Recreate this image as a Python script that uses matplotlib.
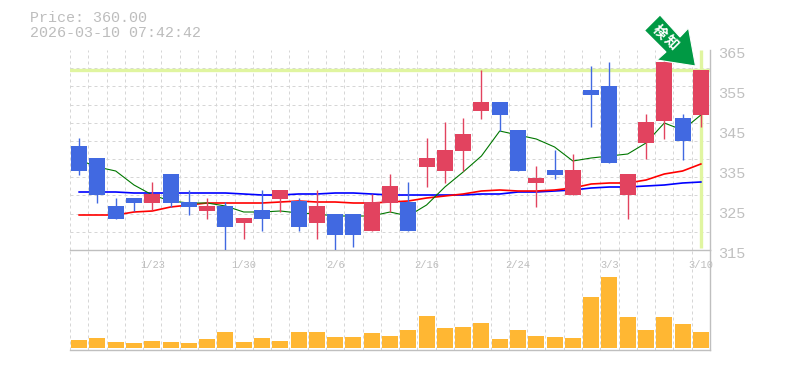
import numpy as np
import matplotlib
matplotlib.use("Agg")
import matplotlib.pyplot as plt
from matplotlib.patches import Polygon
from matplotlib.transforms import ScaledTranslation

price_text = "Price: 360.00"
time_text = "2026-03-10 07:42:42"
last_price = 360

highs = [343, 338, 328, 328, 332, 334, 330, 328, 327, 323, 330, 330, 328, 330, 324, 324, 329, 334, 332, 343,
         347, 348, 360, 352, 345, 336, 340, 339, 361, 362, 334, 349, 364, 349, 360]
lows = [333.75, 326.75, 322.75, 324.75, 325, 325.75, 323.75, 322.75, 315, 317.75, 319.75, 324.5, 319.75, 317.75,
        315, 315.75, 319.75, 324.5, 319.75, 330.75, 331.75, 334.75, 347.75, 344.75, 334.75, 325.75, 332.75,
        328.75, 345.75, 336.75, 322.75, 337.75, 342.75, 337.5, 345.75]
opens = [341, 338, 326, 328, 326.75, 334, 327, 324.75, 326, 321.75, 325, 327.75, 327.25, 321.75, 324, 324, 319.75,
         326.75, 327, 335.75, 334.75, 339.75, 349.75, 352, 345, 331.75, 335, 328.75, 355, 356, 328.75, 341.75,
         347.25, 348, 348.75]
closes = [334.75, 328.75, 322.75, 326.75, 329, 326.75, 325.75, 326, 320.75, 323, 322.75, 330, 320.75, 326, 318.75,
          318.75, 327, 331, 319.75, 338, 340, 344, 352, 348.75, 334.75, 333, 333.75, 335, 353.75, 336.75,
          334, 347, 362, 342.25, 360]
volumes = [8, 10, 6, 5, 7, 6, 5, 9, 16, 6, 10, 7, 16, 16, 11, 11, 15, 12, 18, 32, 20, 21, 25, 9, 18, 12, 11, 10,
           51, 71, 31, 18, 31, 24, 16]

ma_green = [337.5, 335.75, 334.75, 331.25, 328.75, 327.25, 326.75, 326.75, 326, 324.5, 324.5, 324.75, 324.25, 324,
            323.5, 323.5, 323.5, 324.5, 323.5, 326.25, 330.75, 334.5, 338.5, 344.75, 343.75, 342.75, 340.75,
            337.25, 338, 338.5, 339, 341.75, 346.75, 345, 348.75]
ma_red = [323.75, 323.75, 323.75, 324.5, 324.75, 325.75, 326.25, 326.75, 326.75, 326.75, 326.75, 327, 327.25, 327,
          327, 326.75, 326.75, 327, 327.25, 328, 328.5, 329, 329.75, 330, 329.75, 329.75, 330, 330.5, 331.5,
          331.75, 331.75, 332.5, 334, 334.75, 336.5]
ma_blue = [329.5, 329.5, 329.5, 329.25, 329.25, 329.25, 329.25, 329.25, 329.25, 329, 328.75, 328.75, 329, 329,
           329.25, 329.25, 329, 328.75, 328.75, 328.75, 328.75, 328.75, 329, 329, 329.5, 329.5, 329.75, 330,
           330.5, 330.75, 330.75, 331, 331.25, 331.75, 332]

date_pos = [4, 9, 14, 19, 24, 29, 34]
date_labels = ["1/23", "1/30", "2/6", "2/16", "2/24", "3/3", "3/10"]
price_ticks = [315, 325, 335, 345, 355, 365]

RED = "#E2435F"
BLUE = "#4169E1"
GRID = "#D6D6D6"
AXIS = "#BFBFBF"
YELLOW = "#E0F5A0"
MONO = "Liberation Mono"
W, H = 785, 370

fig = plt.figure(figsize=(W / 100, H / 100), dpi=100)
vol = fig.add_axes([70 / W, (H - 350) / H, 640 / W, 100 / H])
ax = fig.add_axes([70 / W, (H - 250) / H, 640 / W, 200 / H], facecolor="none")

x = np.arange(len(closes))
opens = np.array(opens)
closes = np.array(closes)
colors = [RED if c > o else BLUE for o, c in zip(opens, closes)]

# yellow marker of the current price
ax.axhline(last_price, color=YELLOW, lw=2.4, zorder=1)
ax.vlines(x[-1], 315.5, 365, color=YELLOW, lw=2.4, zorder=1)

ax.plot(x, ma_blue, color="#0000FF", lw=1.2, zorder=2)
ax.plot(x, ma_red, color="#FF0000", lw=1.2, zorder=2.1)
ax.plot(x, ma_green, color="#007700", lw=0.8, zorder=2.2)

ax.vlines(x, lows, highs, color=colors, lw=1.0, zorder=3)
ax.bar(x, np.abs(closes - opens), bottom=np.minimum(opens, closes), width=0.875, color=colors, zorder=4)

vol.bar(x, volumes, width=0.875, color="#FFB733", zorder=3)

for a in [ax, vol]:
    a.set_xlim(-0.5, len(closes) - 0.5)
    a.set_xticks(np.arange(len(closes) + 1) - 0.5, minor=True)
    a.grid(True, which="minor", axis="x", color=GRID, lw=0.72, ls=(0, (3, 3)))
    a.tick_params(which="both", length=0)
    a.set_axisbelow(True)
    for s in ["top", "left"]:
        a.spines[s].set_visible(False)
    for s in ["right", "bottom"]:
        a.spines[s].set_color(AXIS)
        a.spines[s].set_linewidth(1.0)

ax.set_ylim(315, 365)
ax.set_yticks(np.linspace(315, 365, 12), minor=True)
ax.grid(True, which="minor", axis="y", color=GRID, lw=0.72, ls=(0, (3, 3)))

ax.yaxis.tick_right()
ax.set_yticks(price_ticks)
ax.set_yticklabels([str(p) for p in price_ticks], family=MONO, fontsize=11, color="#C0C0C0")
ax.tick_params(axis="y", which="major", pad=6)
shift = ScaledTranslation(0, -3 / 100, fig.dpi_scale_trans)
for lab in ax.get_yticklabels():
    lab.set_transform(lab.get_transform() + shift)

ax.set_xticks(date_pos)
ax.set_xticklabels(date_labels, family=MONO, fontsize=7.5, color="#BDBDBD")
ax.tick_params(axis="x", which="major", pad=7)

vol.set_ylim(-2, 98)
vol.set_xticks([])
vol.set_yticks([])

fig.text(30 / W, 1 - 18 / H, price_text, family=MONO, fontsize=10.8, color="#BDBDBD", va="center")
fig.text(30 / W, 1 - 33 / H, time_text, family=MONO, fontsize=10.8, color="#BDBDBD", va="center")

# green "検知" arrow over the last bars
over = fig.add_axes([0, 0, 1, 1], facecolor="none")
over.set_xlim(0, W)
over.set_ylim(H, 0)
over.axis("off")
arrow = [(660, 15), (644.5, 30.5), (666, 52), (657, 60), (695.5, 66), (688.5, 28), (680, 37)]
over.add_patch(Polygon(arrow, closed=True, facecolor="#009944", edgecolor="white", lw=0.8, zorder=5))
over.text(659.5, 32.5, "検", family="Noto Sans CJK JP", fontsize=10, fontweight="bold", color="white",
          rotation=-45, ha="center", va="center", zorder=6)
over.text(670, 43, "知", family="Noto Sans CJK JP", fontsize=10, fontweight="bold", color="white",
          rotation=-45, ha="center", va="center", zorder=6)

fig.savefig("out.png", dpi=100)
